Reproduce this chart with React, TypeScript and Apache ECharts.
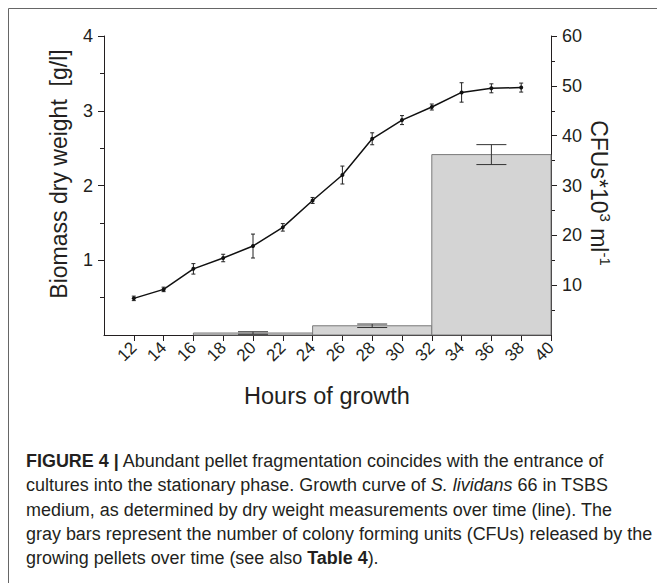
import React, { useEffect, useRef } from "react";
import * as echarts from "echarts";

// Growth curve (line): hours of growth vs biomass dry weight [g/l]
const hours = [12, 14, 16, 18, 20, 22, 24, 26, 28, 30, 32, 34, 36, 38];
const biomass = [0.49, 0.61, 0.885, 1.03, 1.19, 1.44, 1.8, 2.14, 2.625, 2.875, 3.05, 3.245, 3.3, 3.31];
const biomassErr = [0.03, 0.03, 0.07, 0.05, 0.16, 0.05, 0.04, 0.12, 0.08, 0.06, 0.04, 0.13, 0.06, 0.06];

// CFU bars (right axis, CFUs*10^3 ml^-1), each spanning an interval of hours
const barStart = [16, 24, 32];
const barEnd = [24, 32, 40];
const cfu = [0.4, 1.85, 36.2];
const cfuErr = [0.25, 0.35, 2.0];

// Axis tick labels
const xTicks = [12, 14, 16, 18, 20, 22, 24, 26, 28, 30, 32, 34, 36, 38, 40];
const leftTicks = [1, 2, 3, 4];
const rightTicks = [10, 20, 30, 40, 50, 60];

const FONT = "'Liberation Sans', Arial, Helvetica, sans-serif";
const TXT = "#231f20";
const AX = "#231f20";

export default function App() {
  const ref = useRef<HTMLDivElement>(null);
  useEffect(() => {
    if (!ref.current) return;
    const chart = echarts.init(ref.current, undefined, { renderer: "svg" });

    const barData = barStart.map((s, i) => [s, barEnd[i], cfu[i], cfuErr[i]]);
    const errData = hours.map((h, i) => [h, biomass[i] - biomassErr[i], biomass[i] + biomassErr[i]]);
    const lineData = hours.map((h, i) => [h, biomass[i]]);

    const option: any = {
      animation: false,
      backgroundColor: "#ffffff",
      textStyle: { fontFamily: FONT },
      grid: { left: 104, right: 106, top: 36, bottom: 248, containLabel: false },
      xAxis: {
        type: "value",
        min: 10,
        max: 40,
        interval: 2,
        splitLine: { show: false },
        axisLine: { show: true, lineStyle: { color: AX, width: 1 } },
        axisTick: { show: true, customValues: xTicks, length: 6, lineStyle: { color: AX } },
        axisLabel: {
          customValues: xTicks,
          rotate: 45,
          fontSize: 17,
          color: TXT,
          margin: 10,
          fontFamily: FONT,
        },
      },
      yAxis: [
        {
          type: "value",
          min: 0,
          max: 4,
          interval: 1,
          position: "left",
          splitLine: { show: false },
          axisLine: { show: true, lineStyle: { color: AX, width: 1 } },
          axisTick: { show: true, customValues: leftTicks, length: 6, lineStyle: { color: AX } },
          minorTick: { show: true, splitNumber: 2, length: 4, lineStyle: { color: AX } },
          axisLabel: { customValues: leftTicks, fontSize: 18, color: TXT, margin: 11, fontFamily: FONT },
        },
        {
          type: "value",
          min: 0,
          max: 60,
          interval: 10,
          position: "right",
          splitLine: { show: false },
          axisLine: { show: true, lineStyle: { color: AX, width: 1 } },
          axisTick: { show: true, customValues: rightTicks, length: 6, lineStyle: { color: AX } },
          minorTick: { show: true, splitNumber: 2, length: 4, lineStyle: { color: AX } },
          axisLabel: { customValues: rightTicks, fontSize: 18, color: TXT, margin: 11, fontFamily: FONT },
        },
      ],
      series: [
        {
          type: "custom",
          name: "CFUs",
          xAxisIndex: 0,
          yAxisIndex: 1,
          z: 1,
          data: barData,
          encode: { x: [0, 1], y: 2 },
          renderItem: (params: any, api: any) => {
            const s = api.value(0);
            const e = api.value(1);
            const v = api.value(2);
            const err = api.value(3);
            const p0 = api.coord([s, 0]);
            const p1 = api.coord([e, v]);
            const cx = api.coord([(s + e) / 2, 0])[0];
            const hi = api.coord([(s + e) / 2, v + err])[1];
            const lo = api.coord([(s + e) / 2, Math.max(0, v - err)])[1];
            const cap = 15;
            return {
              type: "group",
              children: [
                {
                  type: "rect",
                  shape: { x: p0[0], y: p1[1], width: p1[0] - p0[0], height: p0[1] - p1[1] },
                  style: { fill: "#d4d4d4", stroke: "#7a7a7a", lineWidth: 1 },
                },
                {
                  type: "line",
                  shape: { x1: cx, y1: hi, x2: cx, y2: lo },
                  style: { stroke: "#333", lineWidth: 1 },
                },
                {
                  type: "line",
                  shape: { x1: cx - cap, y1: hi, x2: cx + cap, y2: hi },
                  style: { stroke: "#333", lineWidth: 1 },
                },
                {
                  type: "line",
                  shape: { x1: cx - cap, y1: lo, x2: cx + cap, y2: lo },
                  style: { stroke: "#333", lineWidth: 1 },
                },
              ],
            };
          },
        },
        {
          type: "custom",
          name: "err",
          xAxisIndex: 0,
          yAxisIndex: 0,
          z: 3,
          data: errData,
          encode: { x: 0, y: [1, 2] },
          renderItem: (params: any, api: any) => {
            const x = api.value(0);
            const lo = api.coord([x, api.value(1)]);
            const hi = api.coord([x, api.value(2)]);
            const cap = 2;
            return {
              type: "group",
              children: [
                { type: "line", shape: { x1: lo[0], y1: lo[1], x2: hi[0], y2: hi[1] }, style: { stroke: "#222", lineWidth: 1 } },
                { type: "line", shape: { x1: lo[0] - cap, y1: lo[1], x2: lo[0] + cap, y2: lo[1] }, style: { stroke: "#222", lineWidth: 1 } },
                { type: "line", shape: { x1: hi[0] - cap, y1: hi[1], x2: hi[0] + cap, y2: hi[1] }, style: { stroke: "#222", lineWidth: 1 } },
              ],
            };
          },
        },
        {
          type: "line",
          name: "Biomass",
          xAxisIndex: 0,
          yAxisIndex: 0,
          z: 4,
          data: lineData,
          symbol: "circle",
          symbolSize: 4,
          itemStyle: { color: "#111" },
          lineStyle: { color: "#111", width: 1.5 },
        },
      ],
      graphic: [
        { type: "line", shape: { x1: 8.5, y1: 8.5, x2: 660, y2: 8.5 }, style: { stroke: "#666", lineWidth: 1 }, silent: true },
        { type: "line", shape: { x1: 8.5, y1: 8.5, x2: 8.5, y2: 590 }, style: { stroke: "#666", lineWidth: 1 }, silent: true },
        {
          type: "text",
          x: 59,
          y: 174,
          rotation: Math.PI / 2,
          style: {
            text: "Biomass dry weight  [g/l]",
            fontSize: 23,
            fontFamily: FONT,
            fill: TXT,
            align: "center",
            verticalAlign: "middle",
          },
        },
        {
          type: "text",
          x: 599,
          y: 193,
          rotation: -Math.PI / 2,
          style: {
            text: "{a|CFUs*10}{s|3}{a| ml}{s|-1}",
            fill: TXT,
            align: "center",
            verticalAlign: "middle",
            rich: {
              a: { fontSize: 23, fontFamily: FONT, fill: TXT, lineHeight: 28 },
              s: { fontSize: 15, fontFamily: FONT, fill: TXT, lineHeight: 28, verticalAlign: "top" },
            },
          },
        },
        {
          type: "text",
          x: 327,
          y: 396,
          style: {
            text: "Hours of growth",
            fontSize: 23.5,
            fontFamily: FONT,
            fill: TXT,
            align: "center",
            verticalAlign: "middle",
          },
        },
        {
          type: "text",
          x: 26,
          y: 449,
          style: {
            text:
              "{b|FIGURE 4 |}{n| Abundant pellet fragmentation coincides with the entrance of}\n" +
              "{n|cultures into the stationary phase. Growth curve of }{i|S. lividans}{n| 66 in TSBS}\n" +
              "{n|medium, as determined by dry weight measurements over time (line). The}\n" +
              "{n|gray bars represent the number of colony forming units (CFUs) released by the}\n" +
              "{n|growing pellets over time (see also }{b|Table 4}{n|).}",
            fill: TXT,
            align: "left",
            verticalAlign: "top",
            rich: {
              n: { fontSize: 17.95, fontFamily: FONT, fill: TXT, lineHeight: 24.3 },
              i: { fontSize: 17.95, fontFamily: FONT, fill: TXT, lineHeight: 24.3, fontStyle: "italic" },
              b: { fontSize: 17.95, fontFamily: FONT, fill: TXT, lineHeight: 24.3, fontWeight: "bold" },
            },
          },
        },
      ],
    };
    chart.setOption(option);
    return () => chart.dispose();
  }, []);
  return (
    <div
      ref={ref}
      style={{ position: "absolute", left: 0, top: 0, width: 657, height: 583, background: "#fff" }}
    />
  );
}
